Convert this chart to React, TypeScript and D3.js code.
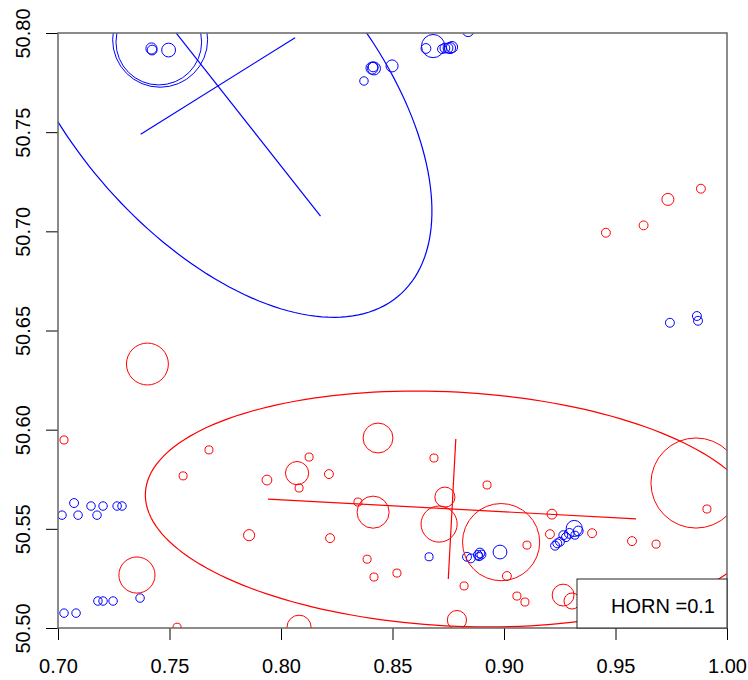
import { useEffect, useRef } from 'react'
import * as d3 from 'd3'

const xTicks = [0.7, 0.75, 0.8, 0.85, 0.9, 0.95, 1.0]
const yTicks = [50.5, 50.55, 50.6, 50.65, 50.7, 50.75, 50.8]
const legendLabel = 'HORN =0.1'

// blue group: x, y, circle radius (x units)
const blueX = [0.7458, 0.7452, 0.7419, 0.7422, 0.7496, 0.8408, 0.8413, 0.8417, 0.8372, 0.8498,
  0.8682, 0.8650, 0.8722, 0.8735, 0.8749, 0.8758, 0.8767, 0.8839, 0.9744, 0.9865,
  0.9870, 0.8664, 0.8834, 0.8851, 0.8883, 0.8892, 0.8899, 0.8888, 0.8982, 0.9315,
  0.9333, 0.9293, 0.9266, 0.9251, 0.9239, 0.9229, 0.9318, 0.9278, 0.7018, 0.7072,
  0.7090, 0.7148, 0.7175, 0.7202, 0.7265, 0.7287, 0.7179, 0.7202, 0.7247, 0.7368,
  0.7027, 0.7081]
const blueY = [50.7966, 50.7954, 50.7922, 50.7914, 50.7914, 50.7823, 50.7829, 50.7821, 50.7758, 50.7834,
  50.7934, 50.7922, 50.7919, 50.7924, 50.7924, 50.7924, 50.7929, 50.8010, 50.6539, 50.6573,
  50.6549, 50.5359, 50.5359, 50.5351, 50.5368, 50.5378, 50.5370, 50.5360, 50.5383, 50.5502,
  50.5489, 50.5477, 50.5468, 50.5435, 50.5427, 50.5415, 50.5468, 50.5458, 50.5569, 50.5630,
  50.5569, 50.5615, 50.5569, 50.5615, 50.5615, 50.5615, 50.5136, 50.5136, 50.5136, 50.5151,
  50.5075, 50.5075]
const blueR = [0.0213, 0.0192, 0.0025, 0.0022, 0.0031, 0.0027, 0.0022, 0.0029, 0.0019, 0.0027,
  0.0052, 0.0022, 0.0020, 0.0022, 0.0022, 0.0025, 0.0025, 0.0025, 0.0020, 0.0020,
  0.0020, 0.0018, 0.0020, 0.0020, 0.0020, 0.0022, 0.0020, 0.0018, 0.0031, 0.0036,
  0.0022, 0.0022, 0.0020, 0.0020, 0.0020, 0.0020, 0.0018, 0.0020, 0.0019, 0.0020,
  0.0019, 0.0019, 0.0019, 0.0019, 0.0019, 0.0019, 0.0019, 0.0019, 0.0019, 0.0019,
  0.0019, 0.0019]

// red group
const redX = [0.7401, 0.7027, 0.7677, 0.7561, 0.7937, 0.8072, 0.8081, 0.8126, 0.8215, 0.7857,
  0.8220, 0.8345, 0.8386, 0.8417, 0.7354, 0.7534, 0.8081, 0.8435, 0.8413, 0.8520,
  0.8686, 0.8735, 0.8709, 0.8821, 0.8789, 0.8987, 0.8924, 0.9215, 0.9206, 0.9395,
  0.9574, 0.9682, 0.9103, 0.9013, 0.9058, 0.9094, 0.9265, 0.9305, 0.9861, 0.9910,
  0.9457, 0.9626, 0.9735, 0.9883]
const redY = [50.6331, 50.5948, 50.5898, 50.5767, 50.5746, 50.5781, 50.5706, 50.5862, 50.5776, 50.5468,
  50.5453, 50.5635, 50.5347, 50.5257, 50.5267, 50.5004, 50.5004, 50.5958, 50.5584, 50.5277,
  50.5857, 50.5660, 50.5524, 50.5212, 50.5040, 50.5433, 50.5721, 50.5574, 50.5473, 50.5478,
  50.5438, 50.5423, 50.5418, 50.5262, 50.5161, 50.5131, 50.5166, 50.5136, 50.5731, 50.5600,
  50.6993, 50.7030, 50.7161, 50.7215]
const redR = [0.0094, 0.0018, 0.0018, 0.0018, 0.0022, 0.0052, 0.0018, 0.0018, 0.0020, 0.0025,
  0.0020, 0.0018, 0.0018, 0.0018, 0.0081, 0.0018, 0.0054, 0.0067, 0.0072, 0.0018,
  0.0018, 0.0045, 0.0081, 0.0018, 0.0043, 0.0173, 0.0018, 0.0022, 0.0020, 0.0020,
  0.0020, 0.0018, 0.0018, 0.0020, 0.0018, 0.0018, 0.0049, 0.0036, 0.0202, 0.0018,
  0.0020, 0.0020, 0.0027, 0.0020]

// ellipses: centre and the two semi-axis vectors, data units
const blueEllipse = { cx: 0.7717, cy: 50.7733, a: [0.0767, -0.1094], b: [0.0577, 0.0405] }
const redEllipse = { cx: 0.8767, cy: 50.56, a: [0.1375, -0.00827], b: [0.00281, 0.0589] }
const crossRatio = 0.6

export default function App() {
  const svgRef = useRef<SVGSVGElement>(null)

  useEffect(() => {
    if (!svgRef.current) return
    document.body.style.margin = '0'

    const svg = d3.select(svgRef.current)
    svg.selectAll('*').remove()

    const margin = { top: 33, right: 21, bottom: 52, left: 58 }
    const width = 748 - margin.left - margin.right
    const height = 680 - margin.top - margin.bottom
    const font = '"Liberation Sans", Arial, sans-serif'

    svg.attr('width', 748).attr('height', 680)

    const g = svg.append('g').attr('transform', `translate(${margin.left},${margin.top})`)

    const x = d3.scaleLinear().domain([0.7, 1.0]).range([0, width])
    const y = d3.scaleLinear().domain([50.5, 50.8]).range([height, 0])
    const rad = (r: number) => x(0.7 + r) - x(0.7)

    svg.append('defs').append('clipPath').attr('id', 'plotclip')
      .append('rect').attr('width', width).attr('height', height)

    const plot = g.append('g').attr('clip-path', 'url(#plotclip)')

    const drawGroup = (xs: number[], ys: number[], rs: number[], color: string) => {
      plot.append('g').selectAll('circle')
        .data(xs.map((d, i) => ({ x: d, y: ys[i], r: rs[i] })))
        .enter().append('circle')
        .attr('cx', d => x(d.x))
        .attr('cy', d => y(d.y))
        .attr('r', d => rad(d.r))
        .attr('fill', 'none')
        .attr('stroke', color)
        .attr('stroke-width', 1)
    }
    drawGroup(blueX, blueY, blueR, '#0000ff')
    drawGroup(redX, redY, redR, '#ff0000')

    const line = d3.line<[number, number]>().x(d => x(d[0])).y(d => y(d[1]))

    const drawEllipse = (e: typeof blueEllipse, color: string) => {
      const pts: [number, number][] = d3.range(0, 361, 2).map(deg => {
        const t = (deg * Math.PI) / 180
        return [e.cx + e.a[0] * Math.cos(t) + e.b[0] * Math.sin(t),
          e.cy + e.a[1] * Math.cos(t) + e.b[1] * Math.sin(t)]
      })
      plot.append('path').attr('d', line(pts))
        .attr('fill', 'none').attr('stroke', color).attr('stroke-width', 1.2)

      ;[e.a, e.b].forEach(v => {
        plot.append('path')
          .attr('d', line([
            [e.cx - v[0] * crossRatio, e.cy - v[1] * crossRatio],
            [e.cx + v[0] * crossRatio, e.cy + v[1] * crossRatio]
          ]))
          .attr('fill', 'none').attr('stroke', color).attr('stroke-width', 1.2)
      })
    }
    drawEllipse(blueEllipse, '#0000ff')
    drawEllipse(redEllipse, '#ff0000')

    const xAxis = g.append('g')
      .attr('transform', `translate(0,${height})`)
      .call(d3.axisBottom(x).tickValues(xTicks).tickFormat(d3.format('.2f'))
        .tickSize(12).tickPadding(19).tickSizeOuter(0))
    xAxis.select('.domain').remove()
    xAxis.selectAll('text').style('font-family', font).style('font-size', '20px').style('fill', '#000')
    xAxis.selectAll('.tick line').style('stroke', '#000')

    const yAxis = g.append('g')
      .call(d3.axisLeft(y).tickValues(yTicks).tickFormat(d3.format('.2f'))
        .tickSize(12).tickSizeOuter(0))
    yAxis.select('.domain').remove()
    yAxis.selectAll('.tick line').style('stroke', '#000')
    yAxis.selectAll('text')
      .attr('x', 0).attr('dy', 0)
      .attr('transform', 'translate(-28,0) rotate(-90)')
      .attr('text-anchor', 'middle')
      .style('font-family', font).style('font-size', '20px').style('fill', '#000')

    g.append('rect')
      .attr('width', width).attr('height', height)
      .attr('fill', 'none').attr('stroke', '#666').attr('stroke-width', 1.5)

    // legend
    const lw = 150, lh = 49
    g.append('rect')
      .attr('x', width - lw).attr('y', height - lh)
      .attr('width', lw).attr('height', lh)
      .attr('fill', '#fff').attr('stroke', '#222').attr('stroke-width', 1)
    g.append('text')
      .attr('x', width - 12).attr('y', height - 15)
      .attr('text-anchor', 'end')
      .style('font-family', font).style('font-size', '20px').style('fill', '#000')
      .text(legendLabel)
  }, [])

  return <svg ref={svgRef} style={{ display: 'block' }}></svg>
}
